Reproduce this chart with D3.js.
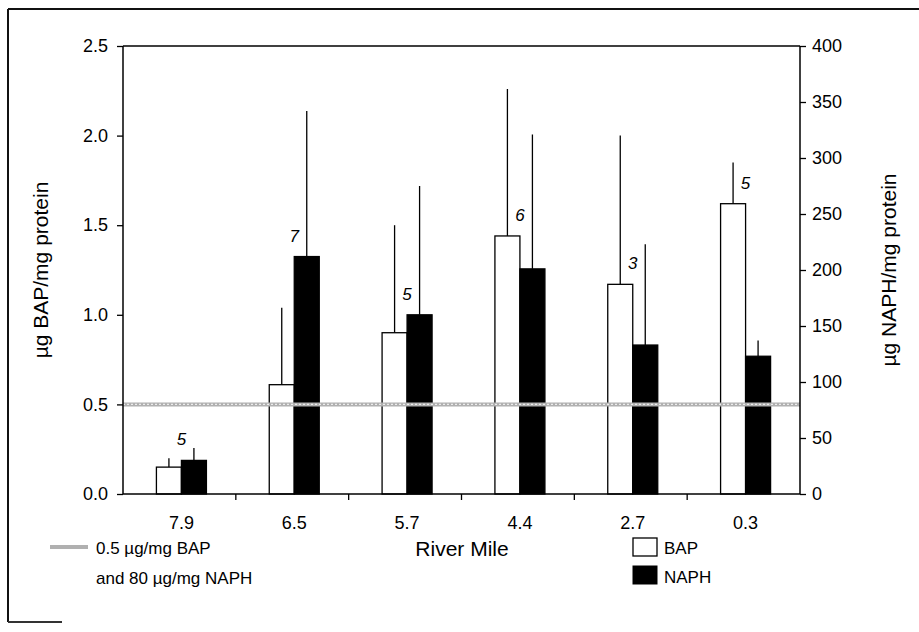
<!DOCTYPE html>
<html><head><meta charset="utf-8">
<script src="https://cdn.jsdelivr.net/npm/d3@7"></script>
<style>body{margin:0;background:#fff}svg{display:block;font-family:"Liberation Sans",Arial,sans-serif}</style>
</head><body>
<script>
const categories = ["7.9","6.5","5.7","4.4","2.7","0.3"];
const bapMean = [0.15, 0.61, 0.90, 1.44, 1.17, 1.62];
const bapErrTop = [0.20, 1.04, 1.50, 2.26, 2.00, 1.85];
const naphMean = [30, 212, 160, 201, 133, 123];
const naphErrTop = [41, 342, 275, 321, 223, 137];
const sampleN = ["5","7","5","6","3","5"];
const leftTicks = [0,0.5,1.0,1.5,2.0,2.5];
const rightTicks = [0,50,100,150,200,250,300,350,400];
const threshold = 0.5;

const W=919,H=632;
const m={l:123,r:800,t:46,b:494};
const svg=d3.select("body").append("svg").attr("width",W).attr("height",H);

// outer frame fragments
svg.append("line").attr("x1",8).attr("x2",W).attr("y1",9).attr("y2",9).attr("stroke","#111").attr("stroke-width",2);
svg.append("line").attr("x1",8).attr("x2",8).attr("y1",9).attr("y2",622).attr("stroke","#111").attr("stroke-width",2);
svg.append("line").attr("x1",8).attr("x2",62).attr("y1",622).attr("y2",622).attr("stroke","#333").attr("stroke-width",2);

const x=d3.scaleBand().domain(categories).range([m.l,m.r]);
const yL=d3.scaleLinear().domain([0,2.5]).range([m.b,m.t]);
const yR=d3.scaleLinear().domain([0,400]).range([m.b,m.t]);
const bw=25;

svg.append("line").attr("x1",m.l).attr("x2",m.r).attr("y1",m.t).attr("y2",m.t).attr("stroke","#000").attr("stroke-width",1.5);

const g=svg.append("g");
categories.forEach((c,i)=>{
  const cx=x(c)+x.bandwidth()/2+2;
  g.append("line").attr("x1",cx-bw/2).attr("x2",cx-bw/2).attr("y1",yL(bapMean[i])).attr("y2",yL(bapErrTop[i])).attr("stroke","#000").attr("stroke-width",1.3);
  g.append("line").attr("x1",cx+bw/2).attr("x2",cx+bw/2).attr("y1",yR(naphMean[i])).attr("y2",yR(naphErrTop[i])).attr("stroke","#000").attr("stroke-width",1.3);
  g.append("rect").attr("x",cx-bw).attr("y",yL(bapMean[i])).attr("width",bw).attr("height",m.b-yL(bapMean[i])).attr("fill","#fff").attr("stroke","#000").attr("stroke-width",1.3);
  g.append("rect").attr("x",cx).attr("y",yR(naphMean[i])).attr("width",bw).attr("height",m.b-yR(naphMean[i])).attr("fill","#000").attr("stroke","#000").attr("stroke-width",1.3);
  const top=Math.min(yL(bapMean[i]),yR(naphMean[i]));
  g.append("text").attr("x",cx).attr("y",top-15).attr("text-anchor","middle").attr("font-size",17).attr("font-style","italic").text(sampleN[i]);
});

// threshold line
const ty=yL(threshold);
svg.append("line").attr("x1",m.l).attr("x2",m.r).attr("y1",ty).attr("y2",ty).attr("stroke","#b0b0b0").attr("stroke-width",4);
svg.append("line").attr("x1",m.l).attr("x2",m.r).attr("y1",ty).attr("y2",ty).attr("stroke","#ececec").attr("stroke-width",1.2).attr("stroke-dasharray","2,2");

// axes
const axL=svg.append("g").attr("transform",`translate(${m.l},0)`).call(d3.axisLeft(yL).tickValues(leftTicks).tickFormat(d3.format(".1f")).tickSize(6).tickPadding(9));
const axR=svg.append("g").attr("transform",`translate(${m.r},0)`).call(d3.axisRight(yR).tickValues(rightTicks).tickSize(6).tickPadding(6));
const axB=svg.append("g").attr("transform",`translate(0,${m.b})`).call(d3.axisBottom(x).tickSize(0).tickPadding(22));
[axL,axR,axB].forEach(a=>{a.selectAll("path.domain").attr("stroke","#000").attr("stroke-width",1.5);a.selectAll("text").attr("font-size",18).attr("fill","#000").attr("font-family","'Liberation Sans',Arial,sans-serif");a.selectAll("line").attr("stroke","#000").attr("stroke-width",1.3);});
axL.select("path.domain").attr("d",`M0,${m.b}V${m.t}`);
axR.select("path.domain").attr("d",`M0,${m.b}V${m.t}`);
axB.select("path.domain").attr("d",`M${m.l},0H${m.r}`);
axB.selectAll("text").attr("transform","translate(2,0)");
svg.append("g").selectAll("line").data(categories.slice(1)).join("line")
  .attr("x1",d=>x(d)).attr("x2",d=>x(d)).attr("y1",m.b).attr("y2",m.b+6).attr("stroke","#000").attr("stroke-width",1.3);

// axis titles
svg.append("text").attr("transform",`translate(48,${(m.t+m.b)/2}) rotate(-90)`).attr("text-anchor","middle").attr("font-size",21).text("µg BAP/mg protein");
svg.append("text").attr("transform",`translate(896,${(m.t+m.b)/2}) rotate(-90)`).attr("text-anchor","middle").attr("font-size",21).text("µg NAPH/mg protein");
svg.append("text").attr("x",462).attr("y",556).attr("text-anchor","middle").attr("font-size",21).text("River Mile");

// legend
svg.append("line").attr("x1",50).attr("x2",88).attr("y1",547).attr("y2",547).attr("stroke","#b0b0b0").attr("stroke-width",4);
svg.append("text").attr("x",96).attr("y",554).attr("font-size",17).text("0.5 µg/mg BAP");
svg.append("text").attr("x",96).attr("y",584).attr("font-size",17).text("and 80 µg/mg NAPH");
svg.append("rect").attr("x",633).attr("y",538).attr("width",24).attr("height",18).attr("fill","#fff").attr("stroke","#000").attr("stroke-width",1.3);
svg.append("rect").attr("x",633).attr("y",566).attr("width",24).attr("height",18).attr("fill","#000").attr("stroke","#000");
svg.append("text").attr("x",664).attr("y",554).attr("font-size",17).text("BAP");
svg.append("text").attr("x",664).attr("y",583).attr("font-size",17).text("NAPH");
</script>
</body></html>
